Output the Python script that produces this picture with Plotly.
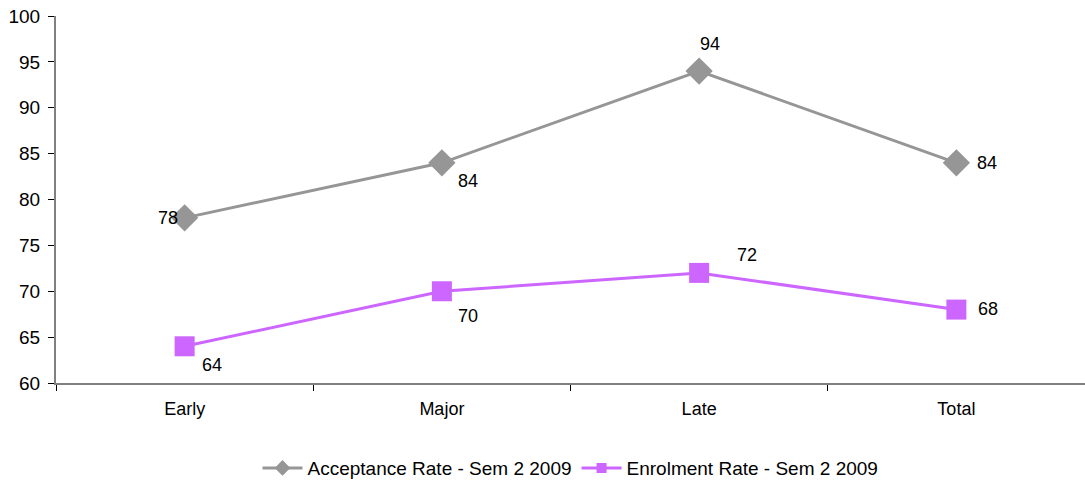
import plotly.graph_objects as go

categories = ["Early", "Major", "Late", "Total"]
acceptance = [78, 84, 94, 84]
enrolment = [64, 70, 72, 68]
y_ticks = [60, 65, 70, 75, 80, 85, 90, 95, 100]
series_names = ["Acceptance Rate - Sem 2 2009", "Enrolment Rate - Sem 2 2009"]

# label offsets (pixels) per point
acc_offsets = [(-17, 0), (26, -18), (11, 27), (31, 0)]
enr_offsets = [(27, -19), (26, -25), (48, 18), (32, 1)]

GRAY = "#969696"
PURPLE = "#CC66FF"
FONT = "Liberation Sans, Arial, sans-serif"

fig = go.Figure()
fig.add_trace(go.Scatter(
    x=categories, y=acceptance, mode="lines+markers",
    name=series_names[0], showlegend=False,
    line=dict(color=GRAY, width=3),
    marker=dict(symbol="diamond", size=21, color=GRAY),
))
fig.add_trace(go.Scatter(
    x=categories, y=enrolment, mode="lines+markers",
    name=series_names[1], showlegend=False,
    line=dict(color=PURPLE, width=3),
    marker=dict(symbol="square", size=20, color=PURPLE),
))
# legend entries with smaller symbols
fig.add_trace(go.Scatter(
    x=[None], y=[None], mode="lines+markers", name=series_names[0],
    line=dict(color=GRAY, width=3),
    marker=dict(symbol="diamond", size=12, color=GRAY),
))
fig.add_trace(go.Scatter(
    x=[None], y=[None], mode="lines+markers", name=series_names[1],
    line=dict(color=PURPLE, width=3),
    marker=dict(symbol="square", size=10, color=PURPLE),
))

annotations = []
for vals, offs in ((acceptance, acc_offsets), (enrolment, enr_offsets)):
    for c, v, (dx, dy) in zip(categories, vals, offs):
        annotations.append(dict(
            x=c, y=v, xref="x", yref="y", text=str(v), showarrow=False,
            xshift=dx, yshift=dy, font=dict(family=FONT, size=18, color="black"),
        ))

fig.update_layout(
    width=1085, height=483,
    margin=dict(l=56, r=0, t=16, b=100, autoexpand=False),
    paper_bgcolor="white", plot_bgcolor="white",
    font=dict(family=FONT, size=17, color="black"),
    showlegend=True,
    legend=dict(orientation="h", x=0.5, xanchor="center", y=-0.18, yanchor="top",
                font=dict(family=FONT, size=19, color="black"),
                itemwidth=40, tracegroupgap=0),
    annotations=annotations,
)
fig.update_xaxes(
    type="category", range=[-0.5, 3.5], automargin=False,
    showline=True, linecolor="#808080", linewidth=2,
    ticks="outside", tickson="boundaries", ticklen=6, tickcolor="black", tickwidth=1,
    showgrid=False, zeroline=False, ticklabelstandoff=8,
    tickfont=dict(family=FONT, size=18, color="black"),
)
fig.update_yaxes(
    range=[60, 100], tickvals=y_ticks, automargin=False,
    showline=True, linecolor="#808080", linewidth=2,
    ticks="outside", ticklen=6, tickcolor="black", tickwidth=1,
    showgrid=False, zeroline=False, ticklabelstandoff=4,
    tickfont=dict(family=FONT, size=19, color="black"),
)

fig.write_html("out.html", config={"displayModeBar": False},
               post_script="document.body.style.margin='0px';")
